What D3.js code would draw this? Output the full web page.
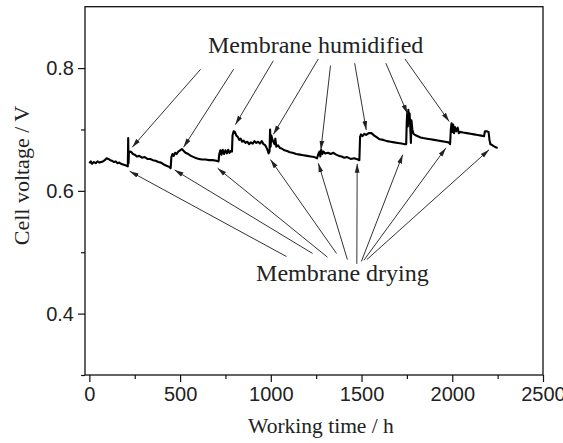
<!DOCTYPE html>
<html>
<head>
<meta charset="utf-8">
<script src="https://cdn.jsdelivr.net/npm/d3@7"></script>
<style>
  html, body { margin: 0; padding: 0; background: #fff; }
  .tick text { font-family: "Liberation Sans", Arial, sans-serif; font-size: 20px; fill: #222; }
  .title { font-family: "Liberation Serif", "Times New Roman", serif; fill: #222; }
</style>
</head>
<body>
<div id="chart"></div>
<script>
// Working time (h) and cell voltage (V)
const hours = [
  0, 8, 15, 25, 35, 45, 55, 65, 75, 85, 95, 105, 115, 125, 135, 145, 155, 165, 175, 185, 195, 205, 212,
  214, 216, 218, 225, 232, 240, 250, 262, 275, 290, 305, 320, 335, 350, 365, 380, 395, 410, 425, 440, 448,
  452, 458, 465, 472, 480, 490, 500, 510, 520, 530, 545, 560, 575, 590, 605, 620, 640, 660, 680, 700, 712,
  716, 722, 728, 735, 742, 750, 758, 765, 772, 780, 786,
  789, 795, 802, 810, 818, 826, 834, 842, 850, 860, 870, 880, 890, 900, 910, 920, 930, 940, 950, 960, 970, 980, 988, 993,
  996, 999, 1003, 1008, 1014, 1020, 1025, 1030, 1040, 1050, 1060, 1075, 1090, 1105, 1120, 1140, 1160, 1180, 1200, 1220, 1240, 1255,
  1262, 1268, 1273, 1278, 1284, 1290, 1300, 1315, 1330, 1345, 1360, 1375, 1390, 1405, 1420, 1440, 1460, 1480, 1488,
  1492, 1497, 1505, 1515, 1525, 1540, 1555, 1570, 1585, 1600, 1620, 1640, 1660, 1680, 1700, 1720, 1740, 1746,
  1749, 1752, 1755, 1758, 1762, 1765, 1769, 1772, 1775, 1780, 1786, 1795, 1810, 1825, 1840, 1860, 1880, 1900, 1920, 1940, 1960, 1980, 1988,
  1992, 1996, 2000, 2005, 2010, 2015, 2022, 2030, 2036, 2045, 2060, 2080, 2100, 2120, 2140, 2160, 2175,
  2180, 2190, 2200, 2205, 2210, 2218, 2228, 2240, 2250
];
const voltage = [
  0.645, 0.648, 0.644, 0.647, 0.645, 0.648, 0.646, 0.647, 0.648, 0.650, 0.653, 0.652, 0.650, 0.649, 0.647, 0.648, 0.645, 0.646, 0.644, 0.643, 0.642, 0.641, 0.640,
  0.686, 0.645, 0.662, 0.664, 0.663, 0.660, 0.659, 0.656, 0.657, 0.654, 0.655, 0.652, 0.652, 0.650, 0.649, 0.647, 0.646, 0.643, 0.641, 0.639, 0.637,
  0.655, 0.660, 0.657, 0.662, 0.660, 0.664, 0.666, 0.668, 0.665, 0.662, 0.660, 0.657, 0.655, 0.653, 0.652, 0.651, 0.651, 0.650, 0.650, 0.649, 0.648,
  0.660, 0.666, 0.659, 0.667, 0.660, 0.666, 0.661, 0.667, 0.662, 0.665, 0.664,
  0.690, 0.697, 0.696, 0.690, 0.688, 0.683, 0.685, 0.680, 0.682, 0.678, 0.680, 0.676, 0.679, 0.677, 0.681, 0.678, 0.680, 0.677, 0.681, 0.676, 0.674, 0.668, 0.661, 0.664,
  0.700, 0.672, 0.690, 0.684, 0.680, 0.676, 0.685, 0.672, 0.674, 0.670, 0.669, 0.666, 0.665, 0.663, 0.662, 0.660, 0.659, 0.658, 0.657, 0.656, 0.655, 0.653,
  0.660, 0.664, 0.656, 0.667, 0.660, 0.664, 0.661, 0.662, 0.660, 0.662, 0.659, 0.657, 0.656, 0.654, 0.655, 0.652, 0.653, 0.651, 0.650,
  0.688, 0.692, 0.689, 0.693, 0.691, 0.694, 0.694, 0.690, 0.687, 0.684, 0.683, 0.681, 0.680, 0.679, 0.678, 0.677, 0.676, 0.676,
  0.712, 0.728, 0.705, 0.732, 0.710, 0.726, 0.700, 0.678, 0.715, 0.700, 0.693, 0.691, 0.689, 0.687, 0.686, 0.685, 0.684, 0.683, 0.682, 0.681, 0.680, 0.679, 0.676,
  0.700, 0.710, 0.696, 0.708, 0.694, 0.704, 0.697, 0.703, 0.694, 0.696, 0.695, 0.694, 0.693, 0.692, 0.691, 0.690, 0.689,
  0.697, 0.697, 0.696, 0.683, 0.676, 0.675, 0.673, 0.671, 0.670
];

const xMajor = [0, 500, 1000, 1500, 2000, 2500];
const xMinor = [250, 750, 1250, 1750, 2250];
const yMajor = [0.4, 0.6, 0.8];
const yMinor = [0.3, 0.5, 0.7];

// annotation arrows: [fromHour, fromVolt, toHour, toVolt]
const humidifiedArrows = [
  [613, 0.798, 236, 0.671],
  [795, 0.798, 519, 0.671],
  [1014, 0.812, 805, 0.708],
  [1262, 0.815, 1014, 0.692],
  [1329, 0.804, 1276, 0.667],
  [1462, 0.808, 1526, 0.699],
  [1634, 0.808, 1753, 0.726],
  [1739, 0.815, 1983, 0.713]
];
const dryingArrows = [
  [1086, 0.493, 222, 0.632],
  [1230, 0.498, 470, 0.634],
  [1312, 0.492, 707, 0.637],
  [1362, 0.498, 998, 0.651],
  [1422, 0.488, 1262, 0.645],
  [1474, 0.481, 1476, 0.644],
  [1499, 0.485, 1727, 0.659],
  [1513, 0.487, 1965, 0.670],
  [1529, 0.488, 2203, 0.667]
];
const labels = [
  { text: 'Membrane humidified', t: 654, v: 0.825 },
  { text: 'Membrane drying', t: 919, v: 0.4536 }
];

const width = 563, height = 443;
const m = { left: 85, right: 543, top: 6.7, bottom: 375 };

const svg = d3.select('#chart').append('svg')
  .attr('width', width)
  .attr('height', height);

const x = d3.scaleLinear().domain([-24, 2500]).range([m.left, m.right]);
const y = d3.scaleLinear().domain([0.3, 0.9]).range([m.bottom, m.top]);

// frame
svg.append('rect')
  .attr('x', m.left).attr('y', m.top)
  .attr('width', m.right - m.left).attr('height', m.bottom - m.top)
  .attr('fill', 'none').attr('stroke', '#111').attr('stroke-width', 1.3);

// axes
svg.append('g')
  .attr('transform', `translate(0,${m.bottom})`)
  .call(d3.axisBottom(x).tickValues(xMajor).tickSize(7).tickSizeOuter(0).tickPadding(5).tickFormat(d3.format('d')));
svg.append('g')
  .attr('transform', `translate(0,${m.bottom})`)
  .call(d3.axisBottom(x).tickValues(xMinor).tickSize(4).tickSizeOuter(0).tickFormat(''));

svg.append('g')
  .attr('transform', `translate(${m.left},0)`)
  .call(d3.axisLeft(y).tickValues(yMajor).tickSize(7).tickSizeOuter(0).tickPadding(4).tickFormat(d3.format('.1f')));
svg.append('g')
  .attr('transform', `translate(${m.left},0)`)
  .call(d3.axisLeft(y).tickValues(yMinor).tickSize(4).tickSizeOuter(0).tickFormat(''));

svg.selectAll('.domain').attr('stroke', 'none');
svg.selectAll('.tick line').attr('stroke', '#111').attr('stroke-width', 1.2);

// axis titles
svg.append('text')
  .attr('class', 'title')
  .attr('x', 321).attr('y', 433)
  .attr('text-anchor', 'middle')
  .style('font-size', '21.5px')
  .text('Working time / h');

svg.append('text')
  .attr('class', 'title')
  .attr('transform', 'translate(28.5,175.5) rotate(-90)')
  .attr('text-anchor', 'middle')
  .style('font-size', '22px')
  .text('Cell voltage / V');

// voltage trace
const points = hours.map((h, i) => [h, voltage[i]]);
svg.append('path')
  .datum(points)
  .attr('fill', 'none')
  .attr('stroke', '#000')
  .attr('stroke-width', 2.1)
  .attr('stroke-linejoin', 'round')
  .attr('d', d3.line().x(d => x(d[0])).y(d => y(d[1])));

// arrowhead
svg.append('defs').append('marker')
  .attr('id', 'head')
  .attr('markerUnits', 'userSpaceOnUse')
  .attr('viewBox', '0 0 9 6')
  .attr('refX', 9).attr('refY', 3)
  .attr('markerWidth', 9).attr('markerHeight', 6)
  .attr('orient', 'auto')
  .append('path')
  .attr('d', 'M0,0.6 L9,3 L0,5.4 Z')
  .attr('fill', '#222');

svg.append('g')
  .selectAll('line')
  .data(humidifiedArrows.concat(dryingArrows))
  .join('line')
  .attr('x1', d => x(d[0])).attr('y1', d => y(d[1]))
  .attr('x2', d => x(d[2])).attr('y2', d => y(d[3]))
  .attr('stroke', '#333')
  .attr('stroke-width', 1)
  .attr('marker-end', 'url(#head)');

svg.append('g')
  .selectAll('text')
  .data(labels)
  .join('text')
  .attr('class', 'title')
  .attr('x', d => x(d.t)).attr('y', d => y(d.v))
  .style('font-size', '24px')
  .text(d => d.text);
</script>
</body>
</html>
